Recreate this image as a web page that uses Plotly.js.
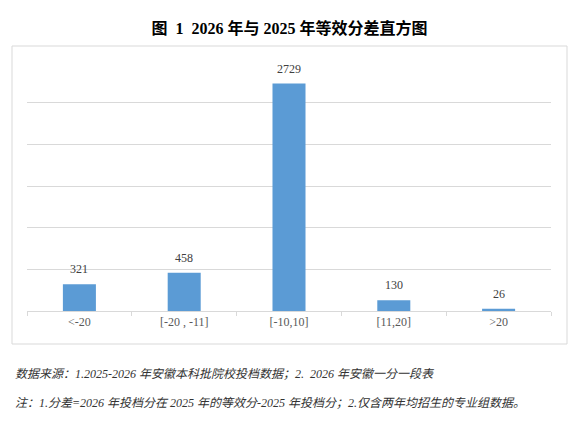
<!DOCTYPE html>
<html>
<head>
<meta charset="utf-8">
<script src="https://cdn.plot.ly/plotly-3.0.1.min.js"></script>
<style>
html,body{margin:0;padding:0;background:#fff;}
#chart{width:579px;height:421px;}
</style>
</head>
<body>
<div id="chart"></div>
<script>
var categories = ["<-20", "[-20 , -11]", "[-10,10]", "[11,20]", ">20"];
var counts = [321, 458, 2729, 130, 26];
var titleText = "图\u00a0\u00a01\u00a0\u00a02026 年与 2025 年等效分差直方图";
var note1 = "数据来源：1.2025-2026 年安徽本科批院校投档数据；2.\u00a0\u00a02026 年安徽一分一段表";
var note2 = "注：1.分差=2026 年投档分在 2025 年的等效分-2025 年投档分；2.仅含两年均招生的专业组数据。";

var serif = "Liberation Serif, Times New Roman, Noto Sans CJK SC, serif";

var labelAnns = categories.map(function(c, i){
  return {
    x: c, y: counts[i], xref: "x", yref: "y",
    text: String(counts[i]), showarrow: false,
    yanchor: "bottom", yshift: 6,
    font: {family: serif, size: 12, color: "#404040"}
  };
});

var W = 524, H = 250;
var layout = {
  width: 579, height: 421,
  margin: {l: 27, r: 28, t: 61, b: 110, pad: 0},
  paper_bgcolor: "#ffffff", plot_bgcolor: "#ffffff",
  showlegend: false,
  bargap: 0.685,
  title: {
    text: "<b>" + titleText + "</b>",
    x: 0.5, xanchor: "center", y: 1 - 28/421, yanchor: "middle",
    font: {family: serif, size: 16, color: "#000000"}
  },
  xaxis: {
    type: "category",
    showline: true, linecolor: "#D9D9D9", linewidth: 1,
    ticks: "outside", tickson: "boundaries", ticklen: 4, tickcolor: "#D9D9D9",
    showgrid: false,
    tickfont: {family: serif, size: 12, color: "#595959"},
    fixedrange: true
  },
  yaxis: {
    range: [0, 3000], dtick: 500,
    showticklabels: false, ticks: "",
    showline: false, zeroline: false,
    showgrid: true, gridcolor: "#D9D9D9", gridwidth: 1,
    fixedrange: true
  },
  shapes: [{
    type: "rect", xref: "paper", yref: "paper",
    x0: (12 - 27) / W, x1: (567 - 27) / W,
    y0: (311 - 344) / H, y1: (311 - 46) / H,
    line: {color: "#D9D9D9", width: 1}, fillcolor: "rgba(0,0,0,0)", layer: "below"
  }],
  annotations: labelAnns.concat([
    {
      xref: "paper", yref: "paper", x: (13 - 27) / W, y: (311 - 374) / H,
      xanchor: "left", yanchor: "middle", showarrow: false,
      text: "<i>" + note1 + "</i>",
      font: {family: serif, size: 12, color: "#333333"}
    },
    {
      xref: "paper", yref: "paper", x: (13 - 27) / W, y: (311 - 403) / H,
      xanchor: "left", yanchor: "middle", showarrow: false,
      text: "<i>" + note2 + "</i>",
      font: {family: serif, size: 12, color: "#333333"}
    }
  ])
};

var data = [{
  type: "bar",
  x: categories,
  y: counts,
  marker: {color: "#5B9BD5", line: {width: 0}},
  hoverinfo: "x+y"
}];

Plotly.newPlot("chart", data, layout, {displayModeBar: false, staticPlot: true});
</script>
</body>
</html>
